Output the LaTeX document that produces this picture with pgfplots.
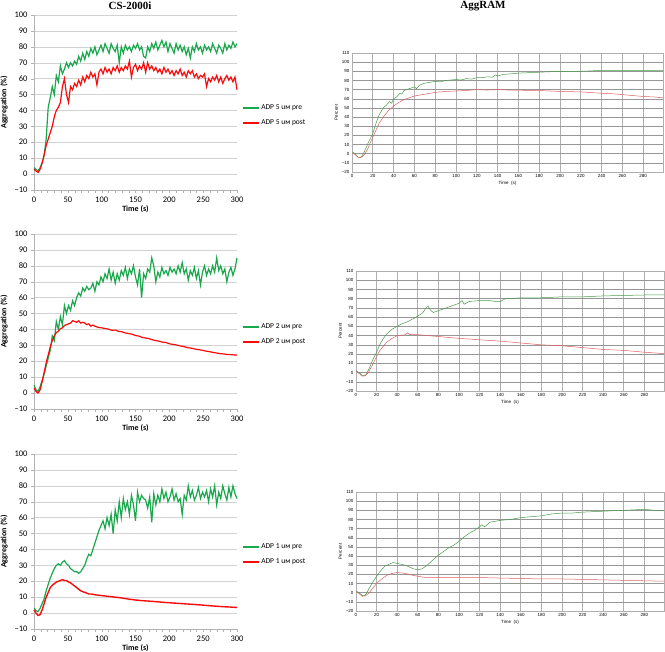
\documentclass[border=0pt]{standalone}
\usepackage{fontspec}
\setmainfont{Carlito}
\newfontfamily\arialf{Liberation Sans}
\newfontfamily\timesf{Liberation Serif}
\usepackage{pgfplots}
\pgfplotsset{compat=1.18}
\definecolor{xgreen}{RGB}{25,168,75}
\definecolor{xred}{RGB}{250,10,10}
\definecolor{agreen}{RGB}{70,155,70}
\definecolor{ared}{RGB}{220,95,95}
\definecolor{vgridc}{RGB}{175,175,175}
\definecolor{hgridc}{RGB}{150,150,150}
\newcommand{\myleg}[2]{%
  \draw[xgreen, line width=1.6pt] (axis description cs:1.03,0.469) -- ++(16pt,0pt);
  \node[anchor=west, inner sep=2pt, font=\fontsize{7.5}{9}\selectfont] at ([xshift=16pt]axis description cs:1.03,0.469) {#1};
  \draw[xred, line width=1.6pt] (axis description cs:1.03,0.383) -- ++(16pt,0pt);
  \node[anchor=west, inner sep=2pt, font=\fontsize{7.5}{9}\selectfont] at ([xshift=16pt]axis description cs:1.03,0.383) {#2};
}
\pgfplotsset{
  leftax/.style={scale only axis, width=203pt, height=175pt,
    xmin=0, xmax=300, ymin=-10, ymax=100,
    xtick={0,50,...,300}, ytick={-10,0,...,100},
    yticklabels={−10,0,10,20,30,40,50,60,70,80,90,100},
    minor x tick num=4,
    axis x line=bottom, axis y line=left,
    axis line style={gray!60, -},
    tick style={gray!60}, tick align=outside,
    major tick length=3pt, minor tick length=3pt,
    ymajorgrids, grid style={gray!35},
    /pgf/number format/assume math mode=true,
    tick label style={font=\fontsize{8.5}{9}\selectfont},
    label style={font=\bfseries\fontsize{8}{9}\selectfont},
    xlabel={Time (s)}, ylabel={Aggregation (\%)},
    xlabel style={yshift=3pt},
    clip=false,
  },
  rightax/.style={scale only axis,
    xmin=0, xmax=299, ymin=-20, ymax=110,
    xtick={0,20,...,280}, ytick={-20,-10,...,110},
    yticklabels={−20,−10,0,10,20,30,40,50,60,70,80,90,100,110},
    xmajorgrids, ymajorgrids,
    x grid style={draw=vgridc, line width=1pt},
    y grid style={draw=hgridc, line width=0.4pt},
    axis line style={draw=vgridc, line width=0.8pt},
    major tick length=0pt,
    /pgf/number format/assume math mode=true,
    tick label style={font=\arialf\fontsize{4.5}{5}\selectfont},
    label style={font=\arialf\fontsize{4.5}{5}\selectfont},
    xlabel={Time\ \ (s)}, ylabel={Percent},
    xticklabel style={yshift=1pt}, yticklabel style={xshift=1pt},
    xlabel style={yshift=3pt}, ylabel style={yshift=-3pt},
  },
}
\begin{document}
\begin{tikzpicture}
\useasboundingbox (0pt,0pt) rectangle (665pt,652pt);
\node[font=\timesf\bfseries\fontsize{11}{12}\selectfont] at (130pt,646pt) {CS-2000i};
\node[font=\timesf\bfseries\fontsize{11}{12}\selectfont] at (483pt,646pt) {AggRAM};

% ---------- Left 1: ADP 5 ----------
\begin{axis}[leftax, at={(34pt,462pt)}, anchor=south west]
\addplot[xgreen, line width=1.2pt] coordinates {(0,4)(3,3)(6,2)(9,4)(12,7)(15,12)(18,22)(21,42)(24,48)(27,55)(30,50)(33,62)(36,58)(39,68)(42,63)(45,66)(48,70)(51,67)(54,70)(57,68)(60,71)(63,69)(66,74)(69,71)(72,76)(75,72)(78,77)(81,74)(84,79)(87,76)(90,80)(93,75)(96,78)(99,81)(102,77)(105,82)(108,79)(111,76)(114,82)(117,79)(120,77)(123,81)(126,70)(129,80)(132,76)(135,81)(138,78)(141,80)(144,77)(147,81)(150,79)(153,82)(156,78)(159,80)(162,74)(165,73)(168,80)(171,77)(174,82)(177,79)(180,83)(183,78)(186,81)(189,84)(192,80)(195,83)(198,77)(201,82)(204,79)(207,76)(210,82)(213,78)(216,81)(219,77)(222,80)(225,75)(228,79)(231,73)(234,80)(237,77)(240,82)(243,78)(246,80)(249,76)(252,81)(255,78)(258,80)(261,77)(264,82)(267,79)(270,76)(273,81)(276,79)(279,76)(282,82)(285,78)(288,81)(291,79)(294,83)(297,80)(300,82)};
\addplot[xred, line width=1.2pt] coordinates {(0,3)(3,2)(6,1)(9,3)(12,7)(15,12)(18,18)(21,22)(24,26)(27,30)(30,36)(33,40)(36,42)(39,45)(42,55)(45,60)(48,50)(51,45)(54,55)(57,53)(60,57)(63,55)(66,59)(69,56)(72,61)(75,58)(78,62)(81,60)(84,64)(87,61)(90,63)(93,56)(96,64)(99,66)(102,63)(105,67)(108,64)(111,66)(114,63)(117,67)(120,65)(123,68)(126,64)(129,67)(132,65)(135,68)(138,66)(141,71)(144,61)(147,67)(150,69)(153,65)(156,68)(159,66)(162,70)(165,64)(168,70)(171,66)(174,68)(177,65)(180,67)(183,64)(186,66)(189,63)(192,67)(195,64)(198,66)(201,63)(204,65)(207,62)(210,65)(213,63)(216,66)(219,62)(222,64)(225,61)(228,65)(231,63)(234,65)(237,61)(240,63)(243,60)(246,62)(249,61)(252,63)(255,55)(258,60)(261,58)(264,61)(267,59)(270,62)(273,58)(276,61)(279,57)(282,60)(285,62)(288,59)(291,61)(294,58)(297,61)(300,53)};
\myleg{ADP 5 uм pre}{ADP 5 uм post}
\end{axis}

% ---------- Left 2: ADP 2 ----------
\begin{axis}[leftax, at={(34pt,243pt)}, anchor=south west]
\addplot[xgreen, line width=1.2pt] coordinates {(0,5)(3,2)(6,1)(9,4)(12,8)(15,12)(18,17)(21,22)(24,27)(27,36)(30,33)(33,45)(36,40)(39,48)(42,43)(45,55)(48,50)(51,55)(54,52)(57,58)(60,55)(63,60)(66,63)(69,61)(72,66)(75,64)(78,67)(81,65)(84,66)(87,69)(90,64)(93,70)(96,68)(99,73)(102,70)(105,75)(108,72)(111,78)(114,71)(117,76)(120,69)(123,75)(126,71)(129,77)(132,74)(135,79)(138,72)(141,78)(144,75)(147,80)(150,73)(153,68)(156,78)(159,60)(162,75)(165,72)(168,78)(171,76)(174,85)(177,80)(180,70)(183,76)(186,73)(189,79)(192,75)(195,77)(198,74)(201,79)(204,76)(207,78)(210,75)(213,80)(216,76)(219,82)(222,75)(225,78)(228,71)(231,77)(234,74)(237,79)(240,72)(243,77)(246,68)(249,76)(252,80)(255,74)(258,78)(261,75)(264,80)(267,76)(270,85)(273,77)(276,80)(279,75)(282,78)(285,70)(288,76)(291,79)(294,74)(297,78)(300,85)};
\addplot[xred, line width=1.2pt] coordinates {(0,3)(3,1)(6,0)(9,2)(12,7)(15,13)(18,19)(21,24)(24,29)(27,33)(30,36)(33,38)(36,39)(39,40.5)(42,41)(45,42.5)(48,43)(51,43.5)(54,44)(57,45.5)(60,45)(63,44.5)(66,45.5)(69,44)(72,44.5)(75,44)(78,43)(81,43.5)(84,42)(87,42.8)(90,42)(93,41.6)(96,41.2)(100,41)(105,40.6)(110,40.2)(115,39.5)(120,39.6)(125,38.8)(130,38.5)(135,37.8)(140,37.4)(145,37)(150,36.2)(155,35.8)(160,35)(165,34.6)(170,34.2)(175,33.5)(180,33)(185,32.6)(190,32)(195,31.8)(200,31)(205,30.6)(210,30.3)(215,29.7)(220,29.4)(225,28.8)(230,28.4)(235,28)(240,27.5)(245,27.2)(250,26.8)(255,26.3)(260,26)(265,25.5)(270,25.2)(275,24.8)(280,24.6)(285,24.3)(290,24.2)(295,24)(300,24)};
\myleg{ADP 2 uм pre}{ADP 2 uм post}
\end{axis}

% ---------- Left 3: ADP 1 ----------
\begin{axis}[leftax, at={(34pt,23pt)}, anchor=south west]
\addplot[xgreen, line width=1.2pt] coordinates {(0,3)(3,1.5)(6,1)(9,3)(12,6)(15,9)(18,14)(21,18)(24,22)(27,25)(30,28)(33,30)(36,31)(39,30)(42,32)(45,33)(48,31)(51,30)(54,28)(57,27)(60,26)(63,26)(66,25)(69,26)(72,28)(75,30)(78,34)(81,37)(84,36)(87,40)(90,44)(93,48)(96,52)(99,55)(102,58)(105,53)(108,60)(111,55)(114,62)(117,50)(120,65)(123,58)(126,70)(129,60)(132,72)(135,65)(138,70)(141,62)(144,74)(147,68)(150,58)(153,76)(156,70)(159,74)(162,72)(165,71)(168,66)(171,73)(174,57)(177,75)(180,68)(183,74)(186,70)(189,78)(192,72)(195,76)(198,70)(201,73)(204,78)(207,71)(210,75)(213,70)(216,72)(219,62)(222,74)(225,71)(228,80)(231,73)(234,77)(237,71)(240,74)(243,79)(246,72)(249,76)(252,73)(255,77)(258,70)(261,78)(264,73)(267,80)(270,68)(273,76)(276,72)(279,80)(282,75)(285,71)(288,79)(291,73)(294,80)(297,75)(300,72)};
\addplot[xred, line width=1.4pt] coordinates {(0,2)(3,0)(6,-1.5)(9,-1)(12,2)(15,6)(18,10)(21,13)(24,16)(27,17.5)(30,18.5)(33,19.5)(36,20)(39,20.5)(42,21)(45,20.5)(48,20.5)(51,19.5)(54,19)(57,18)(60,17)(63,16)(66,15)(69,14)(72,13.5)(75,13)(78,12.5)(81,12)(85,12)(90,11.5)(100,11)(110,10.5)(120,10)(130,9.5)(140,8.8)(150,8.2)(160,7.8)(170,7.5)(180,7.2)(190,6.8)(200,6.5)(210,6.2)(220,5.9)(230,5.6)(240,5.3)(250,5)(260,4.6)(270,4.3)(280,4)(290,3.8)(300,3.5)};
\myleg{ADP 1 uм pre}{ADP 1 uм post}
\end{axis}

% ---------- Right 1 ----------
\begin{axis}[rightax, width=311pt, height=119pt, at={(352pt,480pt)}, anchor=south west]
\addplot[agreen, line width=0.5pt] coordinates {(0,2)(3,0)(6,-4)(8,-4)(10,-2)(13,5)(16,13)(20,22)(23,33)(26,42)(30,50)(33,53)(36,57)(38,55)(40,60)(43,62)(46,66)(48,65)(50,69)(55,71)(60,73)(62,71)(65,75)(70,77)(75,78)(80,79)(85,78.5)(90,80)(95,80.5)(100,81)(105,80.5)(110,82)(115,81.5)(120,83)(125,83)(130,84)(135,83.5)(138,86)(140,85)(145,86.5)(150,87)(160,88)(170,88.5)(180,89)(190,89.5)(200,90)(220,90)(240,91)(260,91)(280,91)(299,91)};
\addplot[ared, line width=0.5pt] coordinates {(0,1)(3,-1)(6,-4)(9,-4)(12,-1)(15,5)(18,13)(22,23)(26,33)(30,40)(35,47)(40,52)(45,56)(50,59)(55,61)(60,63)(70,65)(80,67)(90,68)(100,68.5)(110,69)(120,70)(130,69.5)(140,70)(150,69.5)(160,69.5)(170,69)(180,69)(190,68.5)(200,68)(220,67.5)(240,66)(250,65.5)(260,64.5)(270,63.5)(280,62.5)(290,62)(299,61)};
\end{axis}

% ---------- Right 2 ----------
\begin{axis}[rightax, width=308pt, height=120pt, at={(356pt,261pt)}, anchor=south west]
\addplot[agreen, line width=0.5pt] coordinates {(0,2)(3,0)(6,-3)(8,-3.5)(10,-2)(13,5)(16,13)(20,22)(23,30)(26,36)(30,42)(35,47)(40,50)(45,53)(50,55)(55,58)(60,61)(65,65)(68,70)(70,72)(72,68)(75,65)(80,67)(85,69)(90,71)(95,73)(100,75)(103,78)(105,74)(110,77)(115,77.5)(120,78)(130,78)(135,77)(140,77)(145,80)(150,80)(160,81)(170,81)(180,81)(190,81.5)(200,82)(220,82)(240,83)(260,83.5)(280,84)(299,84)};
\addplot[ared, line width=0.5pt] coordinates {(0,1)(3,-1)(6,-4)(9,-3.5)(12,0)(15,6)(18,13)(22,22)(26,28)(30,33)(35,37)(40,40)(45,40.5)(48,41)(50,43)(52,41)(55,41.5)(60,41)(70,40)(80,39)(90,38)(100,37)(120,35.5)(140,34)(160,32)(180,30)(200,29)(220,27)(240,25)(260,24)(280,22)(299,20.5)};
\end{axis}

% ---------- Right 3 ----------
\begin{axis}[rightax, width=308pt, height=119pt, at={(356pt,41pt)}, anchor=south west]
\addplot[agreen, line width=0.5pt] coordinates {(0,2)(3,0)(6,-3)(8,-3.5)(10,-1)(13,5)(16,11)(20,18)(24,24)(28,29)(32,31)(36,33)(40,32)(44,31)(48,30)(52,28)(56,26)(60,25)(64,26)(68,29)(72,33)(76,37)(80,41)(85,45)(90,49)(95,52)(100,56)(105,61)(110,65)(115,68)(120,72)(122,74)(125,72)(130,77)(135,78)(140,79)(150,80)(160,82)(170,83)(180,84)(190,86)(200,87)(210,87)(220,88)(240,89)(260,90)(280,91)(290,90)(299,90)};
\addplot[ared, line width=0.5pt] coordinates {(0,1)(3,-1)(6,-4)(9,-3.5)(12,-1)(15,3)(20,10)(25,15)(30,19)(35,21)(40,22)(45,21.5)(50,20.5)(55,19)(60,18)(65,17)(70,16.5)(80,16.5)(100,16.5)(120,16.5)(140,16)(160,15.5)(180,15)(200,15)(220,14.5)(240,14)(260,13.5)(280,13)(299,12.5)};
\end{axis}
\end{tikzpicture}
\end{document}
